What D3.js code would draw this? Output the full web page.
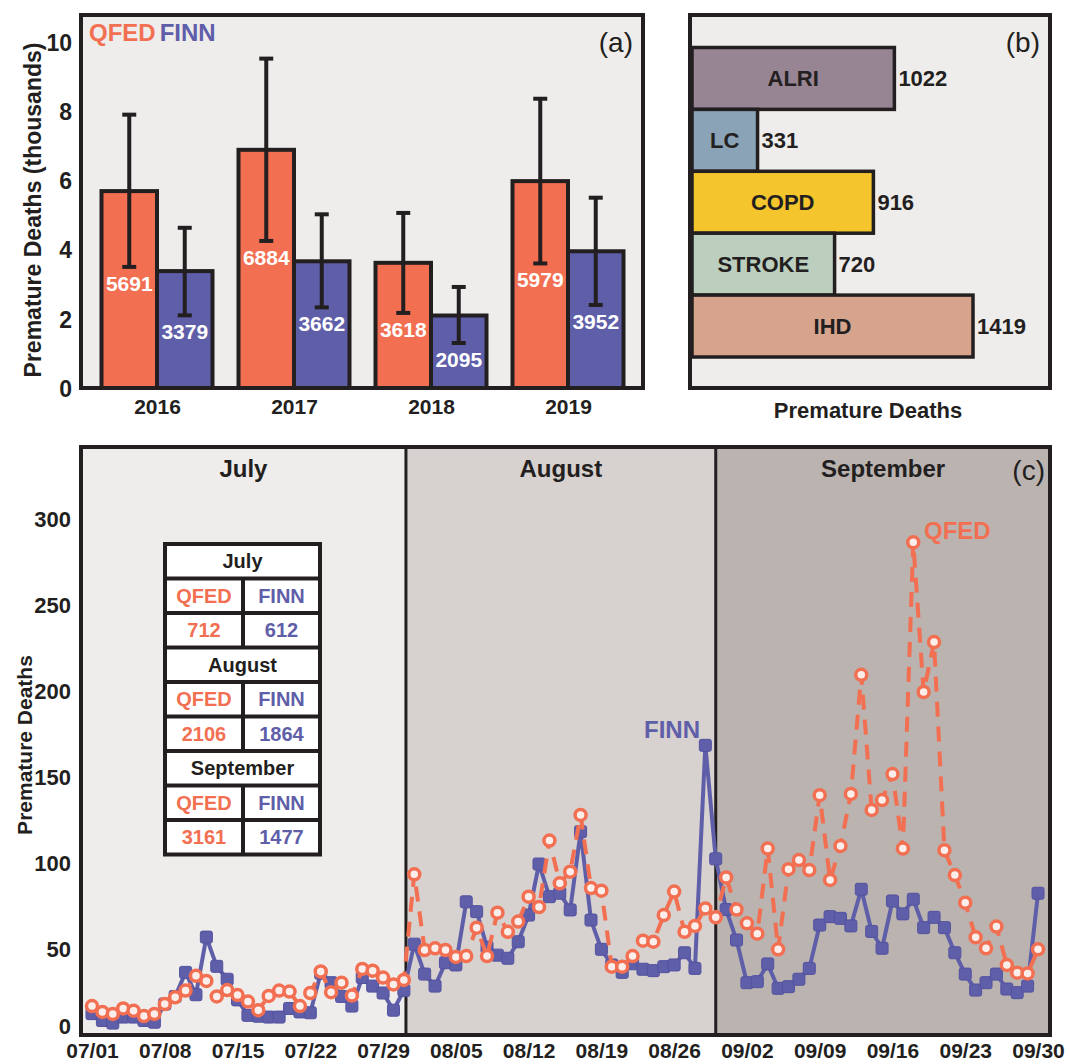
<!DOCTYPE html>
<meta charset="utf-8">
<script src="https://d3js.org/d3.v7.min.js"></script>
<style>
body { margin: 0; background: #fff; }
svg { display: block; font-family: "Liberation Sans", Arial, sans-serif; }
.tick text { font-weight: bold; fill: #231f20; }
.bold { font-weight: bold; }
</style>
<body>
</body>
<script>

// ---- panel (a) data: yearly totals and uncertainty (thousands) ----
var years = ["2016", "2017", "2018", "2019"];
var qfedTotals = [5691, 6884, 3618, 5979];
var finnTotals = [3379, 3662, 2095, 3952];
var qfedLow = [3.5, 4.25, 2.17, 3.6];
var qfedHigh = [7.9, 9.52, 5.06, 8.36];
var finnLow = [2.1, 2.33, 1.3, 2.4];
var finnHigh = [4.63, 5.02, 2.92, 5.5];

// ---- panel (b) data: deaths by cause ----
var causes = ["ALRI", "LC", "COPD", "STROKE", "IHD"];
var causeDeaths = [1022, 331, 916, 720, 1419];
var causeColors = ["#978594", "#8aa3b6", "#f4c52c", "#bccfbf", "#d6a38c"];

// ---- panel (c) data: daily deaths 07/01 - 09/30 ----
var dayTicks = ["07/01", "07/08", "07/15", "07/22", "07/29", "08/05", "08/12",
                "08/19", "08/26", "09/02", "09/09", "09/16", "09/23", "09/30"];
var finnDaily = [13, 9, 7.5, 11, 11, 9, 8, 18.6, 23, 37, 24, 57.5, 40.5, 33, 21, 12,
  11.5, 11, 11, 16, 14, 13.5, 36.5, 31, 23, 17.4, 34, 29, 25, 15, 26.5,
  53.4, 36, 29, 42.6, 41.3, 78, 72.3, 51.6, 47, 45.2, 54.8, 70.3, 100, 81, 83,
  73.3, 118.8, 67.4, 50.4, 41.3, 37, 42, 38.8, 38, 40.3, 41.3, 48.4, 39.3, 169, 103,
  73.5, 55.8, 31, 31.6, 41.9, 27.7, 28.7, 33, 39.3, 64.5, 69.4, 68.4, 64, 85.3, 60.8,
  51, 78.5, 71, 79.5, 63, 69, 63, 48.4, 36, 26.7, 31, 36, 27.3, 25.2, 29, 83];
var qfedDaily = [17.4, 14, 12.8, 16, 14.7, 11.6, 12.8, 18.6, 22.5, 26.4, 35, 32, 23, 26.7,
  23.8, 20, 15, 23.3, 26.4, 25.8, 17.4, 25, 37.5, 25.5, 31, 23.5, 39, 38, 34, 30, 32.6,
  94, 50, 51, 50, 46, 46.5, 63, 46.5, 71.7, 60.6, 66.5, 81, 75, 113.6, 88.8,
  95.5, 128.5, 86, 84.5, 40.3, 40.3, 46.5, 55.4, 54.8, 70.3, 84, 60.6, 64, 74.2, 69,
  92.2, 73.5, 65.5, 59.5, 109, 50.4, 97, 102.3, 96.5, 140, 90.7, 110.5, 140.7, 210, 131.4,
  137.2, 152.3, 109, 287, 200, 229, 108, 93.6, 77.5, 57.4, 51, 63.6, 41.3, 36.8, 36.4, 50.4];
var months = ["July", "August", "September"];
var monthEdges = [-1.06, 30.2, 60, 92.2];   // in days since 07/01
var monthShades = ["#eeedeb", "#d7d1cf", "#bab3b0"];

// ---- summary table ----
var tableQfed = [712, 2106, 3161];
var tableFinn = [612, 1864, 1477];

var QFED = "#f26f52", FINN = "#5f5ea9", INK = "#231f20";

var svg = d3.select("body").append("svg")
  .attr("width", 1070)
  .attr("height", 1064);

// ================= (a) =================
var a = svg.append("g");
a.append("rect").attr("x", 81).attr("y", 15).attr("width", 562).attr("height", 373)
  .attr("fill", "#eeedeb");

var ya = d3.scaleLinear().domain([0, 10]).range([388, 42]);
var xa = d3.scalePoint().domain(years).range([88.5, 636.5]).padding(0.5);
var sub = d3.scaleBand().domain(["QFED", "FINN"]).range([-55.5, 55.5]);

var barsA = [];
years.forEach(function(y, i) {
  barsA.push({year: y, s: "QFED", v: qfedTotals[i], lo: qfedLow[i], hi: qfedHigh[i], c: QFED});
  barsA.push({year: y, s: "FINN", v: finnTotals[i], lo: finnLow[i], hi: finnHigh[i], c: FINN});
});

var ga = a.selectAll(".barA").data(barsA).enter().append("g").attr("class", "barA")
  .attr("transform", function(d) { return "translate(" + (xa(d.year) + sub(d.s)) + ",0)"; });

ga.append("rect")
  .attr("y", function(d) { return ya(d.v / 1000); })
  .attr("width", sub.bandwidth())
  .attr("height", function(d) { return ya(0) - ya(d.v / 1000); })
  .attr("fill", function(d) { return d.c; })
  .attr("stroke", INK).attr("stroke-width", 4);

var cx = sub.bandwidth() / 2;
ga.append("line").attr("x1", cx).attr("x2", cx)
  .attr("y1", function(d) { return ya(d.lo); })
  .attr("y2", function(d) { return ya(d.hi); })
  .attr("stroke", INK).attr("stroke-width", 4);
ga.append("line").attr("x1", cx - 7).attr("x2", cx + 7)
  .attr("y1", function(d) { return ya(d.hi); }).attr("y2", function(d) { return ya(d.hi); })
  .attr("stroke", INK).attr("stroke-width", 4);
ga.append("line").attr("x1", cx - 7).attr("x2", cx + 7)
  .attr("y1", function(d) { return ya(d.lo); }).attr("y2", function(d) { return ya(d.lo); })
  .attr("stroke", INK).attr("stroke-width", 4);

ga.append("text").attr("class", "bold")
  .attr("x", cx).attr("y", function(d) { return ya(d.lo) + 24; })
  .attr("text-anchor", "middle").attr("font-size", 21).attr("fill", "#fff")
  .text(function(d) { return d.v; });

a.append("rect").attr("x", 81).attr("y", 15).attr("width", 562).attr("height", 373)
  .attr("fill", "none").attr("stroke", INK).attr("stroke-width", 4);

var axA = a.append("g").attr("transform", "translate(81,0)")
  .call(d3.axisLeft(ya).tickValues([0, 2, 4, 6, 8, 10]).tickSize(0).tickPadding(9));
axA.select(".domain").remove();
axA.selectAll("text").attr("font-size", 23).attr("dy", "0.36em");

var axAx = a.append("g").attr("transform", "translate(0,388)")
  .call(d3.axisBottom(xa).tickSize(0).tickPadding(11));
axAx.select(".domain").remove();
axAx.selectAll("text").attr("font-size", 21);

a.append("text").attr("class", "bold").attr("font-size", 23).attr("fill", INK)
  .attr("text-anchor", "middle")
  .attr("transform", "translate(41,210) rotate(-90)")
  .text("Premature Deaths (thousands)");

var leg = a.append("text").attr("class", "bold").attr("x", 89).attr("y", 41).attr("font-size", 24);
leg.append("tspan").attr("fill", QFED).text("QFED");
leg.append("tspan").attr("fill", FINN).attr("dx", 4).text("FINN");

a.append("text").attr("x", 633).attr("y", 52).attr("text-anchor", "end")
  .attr("font-size", 28).attr("fill", INK).text("(a)");

// ================= (b) =================
var b = svg.append("g");
b.append("rect").attr("x", 690).attr("y", 15).attr("width", 360).attr("height", 373)
  .attr("fill", "#eeedeb");

var xb = d3.scaleLinear().domain([0, 1419]).range([692, 973]);
var yb = d3.scaleBand().domain(causes).range([47.5, 357]);

var gb = b.selectAll(".barB").data(causes).enter().append("g").attr("class", "barB");
gb.append("rect")
  .attr("x", xb(0))
  .attr("y", function(d) { return yb(d); })
  .attr("width", function(d, i) { return xb(causeDeaths[i]) - xb(0); })
  .attr("height", yb.bandwidth())
  .attr("fill", function(d, i) { return causeColors[i]; })
  .attr("stroke", INK).attr("stroke-width", 3.5);
gb.append("text").attr("class", "bold")
  .attr("x", function(d, i) { return (xb(0) + xb(causeDeaths[i])) / 2; })
  .attr("y", function(d) { return yb(d) + yb.bandwidth() / 2; })
  .attr("dy", "0.36em").attr("text-anchor", "middle").attr("font-size", 22).attr("fill", INK)
  .text(function(d) { return d; });
gb.append("text").attr("class", "bold")
  .attr("x", function(d, i) { return xb(causeDeaths[i]) + 4; })
  .attr("y", function(d) { return yb(d) + yb.bandwidth() / 2; })
  .attr("dy", "0.36em").attr("font-size", 22).attr("fill", INK)
  .text(function(d, i) { return causeDeaths[i]; });

b.append("rect").attr("x", 690).attr("y", 15).attr("width", 360).attr("height", 373)
  .attr("fill", "none").attr("stroke", INK).attr("stroke-width", 4);
b.append("text").attr("x", 1040).attr("y", 52).attr("text-anchor", "end")
  .attr("font-size", 28).attr("fill", INK).text("(b)");
b.append("text").attr("class", "bold").attr("x", 868).attr("y", 418)
  .attr("text-anchor", "middle").attr("font-size", 22).attr("fill", INK)
  .text("Premature Deaths");

// ================= (c) =================
var c = svg.append("g");
var xc = d3.scaleLinear().domain([0, 91]).range([92, 1038]);
var yc = d3.scaleLinear().domain([0, 300]).range([1036, 520]);
var cTop = 447, cBottom = 1035;

c.selectAll(".shade").data(months).enter().append("rect").attr("class", "shade")
  .attr("x", function(d, i) { return xc(monthEdges[i]); })
  .attr("y", cTop)
  .attr("width", function(d, i) { return xc(monthEdges[i + 1]) - xc(monthEdges[i]); })
  .attr("height", cBottom - cTop)
  .attr("fill", function(d, i) { return monthShades[i]; });

c.selectAll(".mline").data(monthEdges.slice(1, 3)).enter().append("line")
  .attr("x1", function(d) { return xc(d); }).attr("x2", function(d) { return xc(d); })
  .attr("y1", cTop).attr("y2", cBottom).attr("stroke", INK).attr("stroke-width", 3);

c.selectAll(".mtitle").data(months).enter().append("text").attr("class", "bold")
  .attr("x", function(d, i) { return xc((monthEdges[i] + monthEdges[i + 1]) / 2); })
  .attr("y", 477).attr("text-anchor", "middle").attr("font-size", 24).attr("fill", INK)
  .text(function(d) { return d; });

c.append("text").attr("x", 1045).attr("y", 480).attr("text-anchor", "end")
  .attr("font-size", 28).attr("fill", INK).text("(c)");

// table
var tx0 = 163, tx1 = 322, ty0 = 542, rowH = 34.5, tmid = 243;
var tbl = c.append("g");
tbl.append("rect").attr("x", tx0).attr("y", ty0).attr("width", tx1 - tx0)
  .attr("height", rowH * 9 + 4).attr("fill", INK);
months.forEach(function(m, i) {
  var r0 = ty0 + i * 3 * rowH;
  tbl.append("rect").attr("x", tx0 + 4).attr("y", r0 + 4)
    .attr("width", tx1 - tx0 - 8).attr("height", rowH - 4).attr("fill", "#fff");
  tbl.append("text").attr("class", "bold").attr("x", (tx0 + tx1) / 2).attr("y", r0 + 4 + (rowH - 4) / 2)
    .attr("dy", "0.36em").attr("text-anchor", "middle").attr("font-size", 20).attr("fill", INK).text(m);
  [["QFED", "FINN"], [tableQfed[i], tableFinn[i]]].forEach(function(pair, k) {
    var ry = r0 + (k + 1) * rowH + 4;
    [[tx0 + 4, tmid - 2, QFED], [tmid + 2, tx1 - 4, FINN]].forEach(function(col, j) {
      tbl.append("rect").attr("x", col[0]).attr("y", ry).attr("width", col[1] - col[0])
        .attr("height", rowH - 4).attr("fill", "#fff");
      tbl.append("text").attr("class", "bold").attr("x", (col[0] + col[1]) / 2)
        .attr("y", ry + (rowH - 4) / 2).attr("dy", "0.36em").attr("text-anchor", "middle")
        .attr("font-size", 20).attr("fill", col[2]).text(pair[j]);
    });
  });
});

// lines
var line = d3.line().x(function(d, i) { return xc(i); }).y(function(d) { return yc(d); });

c.append("path").datum(finnDaily).attr("d", line)
  .attr("fill", "none").attr("stroke", FINN).attr("stroke-width", 4).attr("stroke-linejoin", "round");
c.selectAll(".fm").data(finnDaily).enter().append("rect").attr("class", "fm")
  .attr("x", function(d, i) { return xc(i) - 6; })
  .attr("y", function(d) { return yc(d) - 6; })
  .attr("width", 12).attr("height", 12).attr("rx", 2)
  .attr("fill", FINN).attr("stroke", "#5352a0").attr("stroke-width", 1);

c.append("path").datum(qfedDaily).attr("d", line)
  .attr("fill", "none").attr("stroke", QFED).attr("stroke-width", 4)
  .attr("stroke-dasharray", "15,10");
c.selectAll(".qm").data(qfedDaily).enter().append("circle").attr("class", "qm")
  .attr("cx", function(d, i) { return xc(i); })
  .attr("cy", function(d) { return yc(d); })
  .attr("r", 5.5).attr("fill", "#fbeeea").attr("stroke", QFED).attr("stroke-width", 3.5);

c.append("text").attr("class", "bold").attr("x", 700).attr("y", 738).attr("text-anchor", "end")
  .attr("font-size", 24).attr("fill", FINN).text("FINN");
c.append("text").attr("class", "bold").attr("x", 924).attr("y", 539)
  .attr("font-size", 24).attr("fill", QFED).text("QFED");

c.append("rect").attr("x", 81).attr("y", cTop).attr("width", 969).attr("height", cBottom - cTop)
  .attr("fill", "none").attr("stroke", INK).attr("stroke-width", 4);

var axC = c.append("g").attr("transform", "translate(81,0)")
  .call(d3.axisLeft(yc).tickValues(d3.range(0, 301, 50)).tickSize(0).tickPadding(10));
axC.select(".domain").remove();
axC.selectAll("text").attr("font-size", 22)
  .attr("dy", function(d) { return d === 0 ? "-0.1em" : "0.3em"; });

var axCx = c.append("g").attr("transform", "translate(0," + cBottom + ")")
  .call(d3.axisBottom(xc).tickValues(d3.range(0, 92, 7)).tickSize(0).tickPadding(8)
    .tickFormat(function(d, i) { return dayTicks[i]; }));
axCx.select(".domain").remove();
axCx.selectAll("text").attr("font-size", 21);

c.append("text").attr("class", "bold").attr("font-size", 21).attr("fill", INK)
  .attr("text-anchor", "middle")
  .attr("transform", "translate(32,745) rotate(-90)")
  .text("Premature Deaths");

</script>
